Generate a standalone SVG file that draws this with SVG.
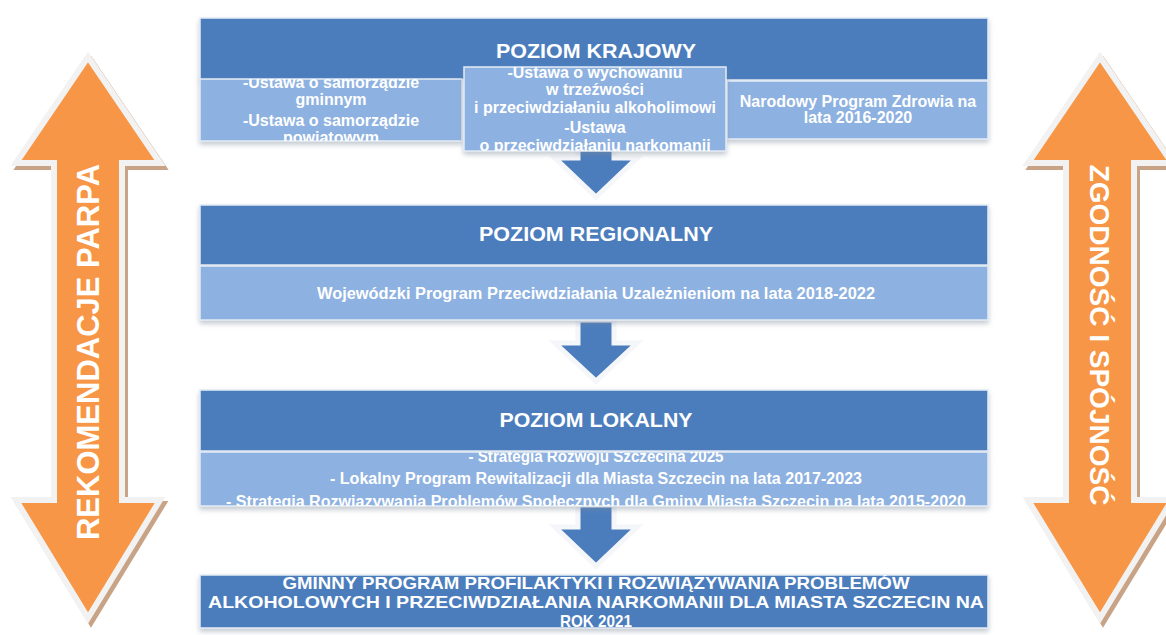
<svg xmlns="http://www.w3.org/2000/svg" width="1166" height="635" viewBox="0 0 1166 635">
<style>
.dark{fill:#4b7dbd;stroke:#e4ebf5;stroke-width:1.5}
.light{fill:#8db1e0;stroke:#e4ebf5;stroke-width:1.5}
.t{font-family:"Liberation Sans",Arial,sans-serif;font-weight:bold;fill:#ffffff;text-anchor:middle}
.h{font-size:21px}
.s{font-size:16px}
.b{font-size:17px}
.bigL{font-size:31px}
.bigR{font-size:28px}
.orange{fill:#f79646;stroke:#f2f2f2;stroke-width:6;stroke-linejoin:miter}
.oshadow{fill:#c9a385;stroke:#c9a385;stroke-width:6}
.barrow{fill:#4b7dbd;stroke:#f4f6fa;stroke-width:5;stroke-linejoin:miter}
</style>
<defs>
<filter id="sh" x="-5%" y="-20%" width="110%" height="150%">
<feDropShadow dx="0" dy="3" stdDeviation="2.5" flood-color="#7f8a99" flood-opacity="0.45"/>
</filter>
<clipPath id="cL"><rect x="200" y="79" width="262" height="62"/></clipPath>
<clipPath id="cM"><rect x="464" y="67" width="262" height="84"/></clipPath>
<clipPath id="cLoc"><rect x="200" y="452" width="788" height="54"/></clipPath>
<clipPath id="cBot"><rect x="200" y="575" width="788" height="53"/></clipPath>
</defs>
<rect width="1166" height="635" fill="#ffffff"/>

<g id="left-arrow">
<polygon class="oshadow" transform="translate(3,4)" points="88,57 160,163 122,163 122,500 160,500 88,618 16,500 54,500 54,163 16,163"/>
<polygon class="orange" points="88,57 160,163 122,163 122,500 160,500 88,618 16,500 54,500 54,163 16,163"/>
<text class="t bigL" transform="translate(99,352) rotate(-90)">REKOMENDACJE PARPA</text>
</g>

<g id="right-arrow">
<polygon class="oshadow" transform="translate(3,4)" points="1100,57 1172,163 1134,163 1134,500 1172,500 1100,618 1028,500 1066,500 1066,163 1028,163"/>
<polygon class="orange" points="1100,57 1172,163 1134,163 1134,500 1172,500 1100,618 1028,500 1066,500 1066,163 1028,163"/>
<text class="t bigR" transform="translate(1090,335) rotate(90)">ZGODNOŚĆ I SPÓJNOŚĆ</text>
</g>

<g id="connectors">
<polygon class="barrow" points="578,140 614,140 614,158 637,158 596,197 555,158 578,158"/>
<polygon class="barrow" points="578,320 614,320 614,343 637,343 596,381 555,343 578,343"/>
<polygon class="barrow" points="578,505 614,505 614,527 637,527 596,566 555,527 578,527"/>
</g>

<g id="poziom-krajowy">
<rect class="dark" x="200" y="18" width="788" height="62" filter="url(#sh)"/>
<text class="t h" x="596" y="58" textLength="200" lengthAdjust="spacingAndGlyphs">POZIOM KRAJOWY</text>
</g>
<g id="ustawy-samorzad">
<rect class="light" x="200" y="79" width="262" height="62" filter="url(#sh)"/>
<g clip-path="url(#cL)">
<text class="t s" x="331" y="88">-Ustawa o samorządzie</text>
<text class="t s" x="331" y="105">gminnym</text>
<text class="t s" x="331" y="126">-Ustawa o samorządzie</text>
<text class="t s" x="331" y="143">powiatowym</text>
</g>
</g>
<g id="narodowy-program">
<rect class="light" x="727" y="81" width="261" height="58" filter="url(#sh)"/>
<text class="t s" x="858" y="107">Narodowy Program Zdrowia na</text>
<text class="t s" x="858" y="123">lata 2016-2020</text>
</g>
<g id="ustawy-wychowanie">
<rect class="light" x="464" y="67" width="262" height="84" filter="url(#sh)"/>
<g clip-path="url(#cM)">
<text class="t s" x="595" y="78">-Ustawa o wychowaniu</text>
<text class="t s" x="595" y="95">w trzeźwości</text>
<text class="t s" x="595" y="113">i przeciwdziałaniu alkoholimowi</text>
<text class="t s" x="595" y="133">-Ustawa</text>
<text class="t s" x="595" y="151">o przeciwdziałaniu narkomanii</text>
</g>
</g>

<g id="poziom-regionalny">
<rect class="dark" x="200" y="205" width="788" height="60" filter="url(#sh)"/>
<text class="t h" x="596" y="241" textLength="234" lengthAdjust="spacingAndGlyphs">POZIOM REGIONALNY</text>
</g>
<g id="wojewodzki-program">
<rect class="light" x="200" y="266" width="788" height="54" filter="url(#sh)"/>
<text class="t s" x="596" y="299" textLength="558" lengthAdjust="spacingAndGlyphs">Wojewódzki Program Przeciwdziałania Uzależnieniom na lata 2018-2022</text>
</g>

<g id="poziom-lokalny">
<rect class="dark" x="200" y="390" width="788" height="61" filter="url(#sh)"/>
<text class="t h" x="596" y="427" textLength="193" lengthAdjust="spacingAndGlyphs">POZIOM LOKALNY</text>
</g>
<g id="strategie-lokalne">
<rect class="light" x="200" y="452" width="788" height="54" filter="url(#sh)"/>
<g clip-path="url(#cLoc)">
<text class="t s" x="596" y="462" textLength="255" lengthAdjust="spacingAndGlyphs">- Strategia Rozwoju Szczecina 2025</text>
<text class="t s" x="596" y="484" textLength="532" lengthAdjust="spacingAndGlyphs">- Lokalny Program Rewitalizacji dla Miasta Szczecin na lata 2017-2023</text>
<text class="t s" x="596" y="507" textLength="740" lengthAdjust="spacingAndGlyphs">- Strategia Rozwiazywania Problemów Społecznych dla Gminy Miasta Szczecin na lata 2015-2020</text>
</g>
</g>

<g id="gminny-program">
<rect class="dark" x="200" y="575" width="788" height="53" filter="url(#sh)"/>
<g clip-path="url(#cBot)">
<text class="t b" x="596" y="589" textLength="627" lengthAdjust="spacingAndGlyphs">GMINNY PROGRAM PROFILAKTYKI I ROZWIĄZYWANIA PROBLEMÓW</text>
<text class="t b" x="596" y="608" textLength="776" lengthAdjust="spacingAndGlyphs">ALKOHOLOWYCH I PRZECIWDZIAŁANIA NARKOMANII DLA MIASTA SZCZECIN NA</text>
<text class="t b" x="596" y="627" textLength="72" lengthAdjust="spacingAndGlyphs">ROK 2021</text>
</g>
</g>
</svg>
